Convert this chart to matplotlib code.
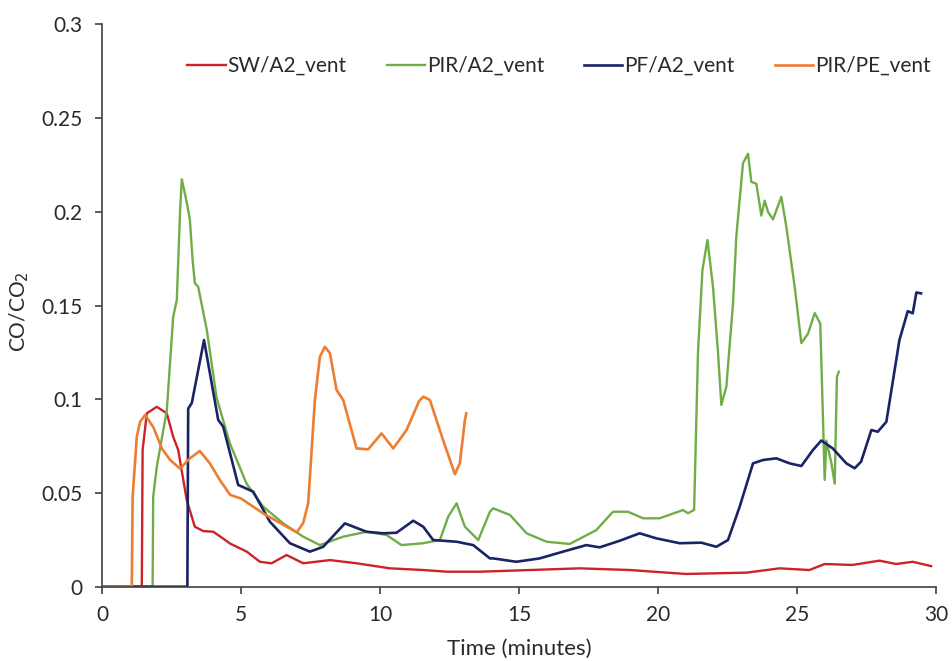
import numpy as np
import matplotlib.pyplot as plt

plt.rcParams['font.family'] = ['Lato', 'DejaVu Sans']

# SW/A2_vent
sw_t = [0, 1.42, 1.45, 1.6, 1.96, 2.32, 2.55, 2.73, 3.04, 3.33, 3.63, 4.0, 4.6, 5.2,
        5.67, 6.09, 6.63, 7.23, 8.19, 9.15, 10.35, 11.55, 12.4, 13.59, 15.39,
        17.18, 18.98, 21.0, 23.18, 24.38, 25.45, 26.0, 27.0, 27.97, 28.57, 29.17,
        29.83]
sw_v = [0, 0, 0.073, 0.0925, 0.096, 0.0925, 0.08, 0.073, 0.046, 0.032, 0.0297,
        0.0293, 0.023, 0.0187, 0.0133, 0.0125, 0.0169, 0.0125, 0.0142, 0.0125,
        0.0098, 0.0089, 0.008, 0.008, 0.0089, 0.0098, 0.0089, 0.0068, 0.0075,
        0.0098, 0.0089, 0.0121, 0.0116, 0.0139, 0.0121, 0.0133, 0.011]

# PIR/A2_vent
pir_t = [0, 1.81, 1.83, 1.96, 2.32, 2.55, 2.68, 2.8, 2.86, 3.04, 3.15, 3.25, 3.33,
         3.45, 3.76, 4.11, 4.59, 5.19, 5.79, 6.51, 7.23, 7.83, 8.67, 9.51, 10.23,
         10.77, 11.55, 12.15, 12.45, 12.75, 13.05, 13.53, 13.95, 14.07, 14.67,
         15.27, 15.99, 16.82, 17.78, 18.38, 18.92, 19.46, 20.06, 20.9, 21.08,
         21.3, 21.44, 21.6, 21.78, 21.98, 22.16, 22.28, 22.46, 22.7, 22.82, 23.06,
         23.24, 23.36, 23.54, 23.72, 23.84, 23.96, 24.14, 24.44, 24.62, 24.92,
         25.16, 25.4, 25.64, 25.84, 25.94, 26.0, 26.06, 26.24, 26.36, 26.44, 26.51]
pir_v = [0, 0, 0.048, 0.064, 0.094, 0.144, 0.153, 0.201, 0.2174, 0.205, 0.196,
         0.174, 0.162, 0.16, 0.137, 0.101, 0.0765, 0.055, 0.0427, 0.0338, 0.0267,
         0.0222, 0.0267, 0.0293, 0.0276, 0.0222, 0.0232, 0.0249, 0.0374, 0.0445,
         0.032, 0.0249, 0.04, 0.0418, 0.0383, 0.0285, 0.024, 0.0228, 0.0302, 0.04,
         0.04, 0.0365, 0.0365, 0.0409, 0.0392, 0.041, 0.125, 0.169, 0.185, 0.16,
         0.125, 0.097, 0.1067, 0.151, 0.187, 0.226, 0.231, 0.216, 0.215, 0.198,
         0.206, 0.2, 0.196, 0.208, 0.192, 0.16, 0.13, 0.135, 0.146, 0.1405, 0.089,
         0.057, 0.078, 0.066, 0.055, 0.112, 0.1147]

# PF/A2_vent
pf_t = [0, 3.06, 3.09, 3.22, 3.66, 4.17, 4.35, 4.89, 5.43, 6.03, 6.75, 7.47, 7.95,
        8.73, 9.51, 10.11, 10.59, 11.19, 11.55, 11.91, 12.75, 13.35, 13.95, 14.07,
        14.9, 15.74, 16.58, 17.42, 17.9, 18.62, 19.34, 19.94, 20.78, 21.56, 22.1,
        22.52, 22.94, 23.42, 23.78, 24.26, 24.74, 25.16, 25.58, 25.88, 26.29,
        26.78, 27.08, 27.31, 27.68, 27.91, 28.22, 28.69, 28.99, 29.17, 29.3, 29.47]
pf_v = [0, 0, 0.095, 0.098, 0.1316, 0.089, 0.0854, 0.0543, 0.0507, 0.0347, 0.0232,
        0.0187, 0.0213, 0.0338, 0.0293, 0.0285, 0.0288, 0.0352, 0.032, 0.0249,
        0.024, 0.0222, 0.0151, 0.0151, 0.0133, 0.0151, 0.0187, 0.0222, 0.021,
        0.0245, 0.0285, 0.0258, 0.0232, 0.0235, 0.0213, 0.0249, 0.0427, 0.0658,
        0.0676, 0.0685, 0.0658, 0.0644, 0.073, 0.078, 0.0738, 0.0658, 0.0632,
        0.0667, 0.0836, 0.0827, 0.088, 0.1316, 0.147, 0.1459, 0.157, 0.1565]

# PIR/PE_vent
pe_t = [0, 1.06, 1.09, 1.24, 1.36, 1.54, 1.84, 2.14, 2.44, 2.8, 3.15, 3.51, 3.87,
        4.23, 4.6, 5.0, 5.8, 7.0, 7.23, 7.41, 7.65, 7.83, 8.01, 8.19, 8.43, 8.67,
        9.15, 9.57, 10.05, 10.47, 10.95, 11.4, 11.55, 11.79, 12.27, 12.69, 12.87,
        13.05, 13.1]
pe_v = [0, 0, 0.048, 0.08, 0.088, 0.0916, 0.085, 0.0738, 0.0676, 0.063, 0.0685,
        0.0724, 0.0658, 0.0569, 0.049, 0.047, 0.039, 0.029, 0.034, 0.0446, 0.0996,
        0.1227, 0.128, 0.1247, 0.105, 0.0996, 0.0738, 0.0733, 0.0818, 0.0738,
        0.0836, 0.099, 0.1014, 0.0996, 0.078, 0.06, 0.066, 0.089, 0.0925]

fig = plt.figure(figsize=(9.52, 6.61), dpi=100)
ax = fig.add_axes([0.1075, 0.1124, 0.8755, 0.8506])

ax.plot(sw_t, sw_v, color='#cc2229', lw=1.7, label='SW/A2_vent')
ax.plot(pir_t, pir_v, color='#70ad47', lw=1.7, label='PIR/A2_vent')
ax.plot(pf_t, pf_v, color='#1a2465', lw=1.9, label='PF/A2_vent')
ax.plot(pe_t, pe_v, color='#ed7d31', lw=1.9, label='PIR/PE_vent')

ax.set_xlim(0, 30)
ax.set_ylim(0, 0.3)
ax.set_xticks(np.arange(0, 31, 5))
ax.set_yticks([0, 0.05, 0.1, 0.15, 0.2, 0.25, 0.3])
ax.set_yticklabels(['0', '0.05', '0.1', '0.15', '0.2', '0.25', '0.3'])
ax.spines['top'].set_visible(False)
ax.spines['right'].set_visible(False)
for s in ['left', 'bottom']:
    ax.spines[s].set_color('#404040')
    ax.spines[s].set_linewidth(1.2)
ax.tick_params(direction='out', length=5, width=1.2, color='#404040',
               labelsize=15, labelcolor='#2a2a2a')
ax.tick_params(axis='x', pad=8)
ax.tick_params(axis='y', pad=9)
ax.set_xlabel('Time (minutes)', fontsize=16, color='#2a2a2a')
ax.set_ylabel('CO/CO$_2$', fontsize=15, color='#2a2a2a')
ax.xaxis.set_label_coords(0.5, -0.093)
ax.yaxis.set_label_coords(-0.086, 0.49)

fig.legend(loc='center left', bbox_to_anchor=(0.1772, 0.900), ncol=4,
           frameon=False, fontsize=15, handlelength=1.83, handletextpad=0.1,
           columnspacing=1.92, labelcolor='#2a2a2a')

fig.savefig('out.png', dpi=100)
